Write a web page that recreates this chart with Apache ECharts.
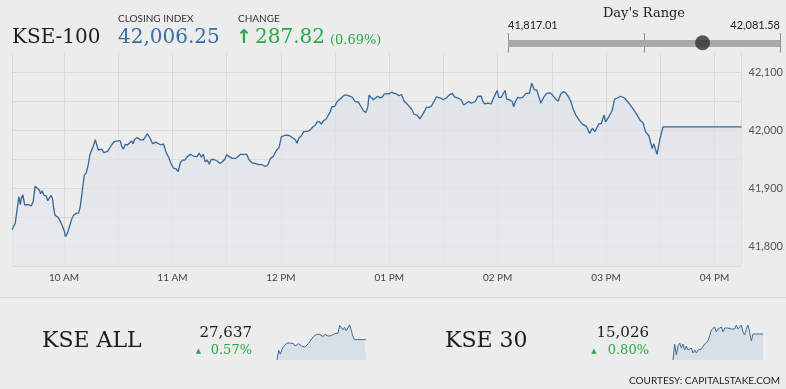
<!DOCTYPE html>
<html><head><meta charset="utf-8">
<script src="https://cdn.jsdelivr.net/npm/echarts@6/dist/echarts.min.js"></script>
<style>html,body{margin:0;padding:0;background:#ececec;overflow:hidden}#c{width:786px;height:389px}</style>
</head><body><div id="c"></div>
<script>
// ---- KSE-100 intraday (minutes after midnight, index value) ----
const times = [
571.2,573.0,574.1,575.0,575.8,576.3,577.2,578.2,579.1,580.4,581.1,581.8,582.9,584.0,585.1,586.4,587.0,587.9,588.8,590.1,
591.0,592.0,592.8,593.6,594.3,595.0,596.5,598.0,599.3,600.2,600.8,602.0,603.0,604.2,605.3,606.6,608.1,609.0,610.1,611.2,
612.3,613.4,614.3,615.3,616.4,617.3,618.2,619.0,619.8,620.9,621.9,622.8,624.1,625.2,626.3,627.8,629.6,631.1,632.0,632.9,
633.8,635.1,636.2,637.3,638.2,639.1,640.6,642.1,643.9,646.1,647.6,649.0,650.7,651.8,653.7,655.1,656.4,657.7,659.2,660.6,
661.9,663.2,664.3,665.6,666.9,668.0,669.8,671.6,673.5,674.8,676.0,677.1,678.1,679.3,680.3,681.5,683.0,684.9,686.3,687.6,
688.9,690.0,691.5,693.1,695.0,696.3,697.7,699.6,701.1,702.3,704.1,706.0,707.8,709.6,711.5,712.8,714.3,715.7,716.6,717.6,
718.9,720.3,721.6,723.1,724.9,726.7,728.1,728.9,730.0,731.4,732.6,733.6,735.0,736.3,737.6,739.1,740.0,741.3,742.4,743.6,
744.9,746.0,747.3,748.2,749.7,751.0,752.3,753.7,755.2,756.5,757.4,758.4,759.6,761.1,762.9,764.4,765.7,767.0,768.1,768.8,
769.9,771.2,772.1,773.6,774.9,776.2,777.3,778.5,779.8,781.3,782.8,784.0,785.4,786.8,788.3,789.5,790.9,792.3,793.8,795.6,
796.9,798.2,799.3,800.6,801.9,803.3,804.8,806.1,807.0,808.5,809.8,811.6,813.1,814.9,816.2,818.0,819.8,821.2,822.6,824.1,
825.4,826.3,827.6,829.1,830.9,831.8,832.7,834.6,836.4,837.3,838.8,839.7,840.6,841.9,842.8,844.1,845.0,846.5,848.0,848.9,
849.8,851.1,852.4,853.8,855.7,857.5,858.9,860.3,861.6,862.7,863.9,865.4,867.1,868.9,870.4,872.2,873.5,874.9,876.4,877.7,
879.2,880.5,881.8,883.2,885.1,886.9,887.8,889.1,890.0,890.9,892.4,893.8,896.1,897.4,898.9,899.7,901.6,903.4,904.7,906.2,
908.0,908.9,910.2,911.3,912.6,913.5,915.4,917.2,918.7,920.5,921.8,923.7,925.5,926.4,928.2,929.7,931.5,975.0
];
const values = [
41829,41840,41843,41886,41872,41883,41889,41872,41869,41872,41875,41870,41877,41904,41904,41897,41891,41896,41889,41887,
41879,41877,41888,41883,41866,41854,41851,41843,41834,41826,41817,41824,41827,41847,41854,41857,41858,41869,41869,41923,
41927,41941,41958,41966,41975,41984,41982,41966,41965,41968,41962,41965,41964,41965,41975,41981,41982,41982,41972,41968,
41976,41975,41977,41982,41977,41985,41988,41984,41984,41994,41987,41977,41980,41981,41975,41977,41963,41955,41943,41935,
41934,41929,41944,41949,41949,41954,41959,41956,41955,41961,41954,41959,41946,41949,41942,41950,41950,41947,41943,41946,
41950,41958,41955,41952,41952,41955,41959,41959,41959,41950,41944,41943,41941,41941,41938,41941,41952,41955,41952,41966,
41970,41989,41991,41992,41991,41987,41984,41978,41987,41991,41998,41996,41999,42001,42006,42009,42015,42015,42011,42017,
42019,42020,42032,42041,42041,42049,42053,42057,42061,42061,42064,42059,42057,42050,42049,42041,42034,42031,42040,42061,
42063,42053,42056,42059,42056,42058,42063,42063,42063,42066,42064,42063,42060,42062,42050,42047,42042,42037,42028,42026,
42020,42026,42032,42040,42040,42042,42050,42058,42061,42056,42053,42056,42061,42064,42058,42056,42053,42044,42047,42050,
42047,42045,42050,42059,42059,42050,42046,42047,42046,42053,42063,42069,42057,42057,42056,42069,42054,42053,42050,42041,
42050,42057,42056,42057,42064,42064,42081.58,42070,42070,42059,42047,42057,42064,42065,42061,42054,42051,42063,42067,42065,
42058,42050,42037,42027,42018,42011,42012,42007,42004,41995,42004,41998,42012,42012,42027,42015,42024,42035,42054,42056,
42059,42061,42056,42059,42047,42050,42035,42027,42018,42013,41998,41991,41969,41977,41959,41984,42006.25,42006.25
];
const hourTicks = {600:'10 AM',660:'11 AM',720:'12 PM',780:'01 PM',840:'02 PM',900:'03 PM',960:'04 PM'};

const indexName = 'KSE-100';
const closingIndex = 42006.25;
const changePts = 287.82;
const changePct = 0.69;
const dayLow = 41817.01;
const dayHigh = 42081.58;

// ---- Sub-indices (sparklines, evenly spaced through the session) ----
const kseAllName = 'KSE ALL';
const kseAllValue = 27637;
const kseAllPct = 0.57;
const kseAllSpark = [27602,27619,27612,27620,27625,27628,27631,27632,27631,27633,27630,27626,27628,27630,27628,27626,27625,27624,27626,27630,
27634,27637,27642,27644,27646,27643,27646,27644,27642,27646,27644,27643,27646,27644,27646,27647,27649,27648,27661,27658,
27654,27658,27652,27649,27662,27654,27643,27637,27637,27637,27637,27637,27637,27637,27637];
const kse30Name = 'KSE 30';
const kse30Value = 15026;
const kse30Pct = 0.80;
const kse30Spark = [15000,15016,15005,15014,15017,15012,15016,15010,15014,15010,15011,15012,15007,15010,15007,15010,15008,15011,15010,15016,
15017,15019,15024,15030,15032,15033,15028,15031,15032,15033,15028,15032,15031,15032,15033,15031,15032,15031,15035,15031,
15033,15035,15028,15025,15031,15035,15028,15019,15026,15026,15026,15026,15026,15026,15026];

const serif = '"DejaVu Serif", serif';
const sans = 'Lato, "Open Sans", sans-serif';
const green = '#2aa84a';
const lineBlue = '#36679a';
const fmt = (v, d) => v.toLocaleString('en-US', {minimumFractionDigits: d, maximumFractionDigits: d});

const chart = echarts.init(document.getElementById('c'), null, {renderer: 'canvas'});

function txt(text, x, y, font, fill, align) {
  return {type: 'text', silent: true, z: 10, style: {text, x, y, font, fill, textAlign: align || 'left', textVerticalAlign: 'middle', verticalAlign: 'middle'}};
}

const sparkIdx = kseAllSpark.map((_, i) => i);

chart.setOption({
  backgroundColor: '#ececec',
  animation: false,
  grid: [
    {left: 12, right: 41, top: 53, bottom: 123},
    {left: 508, width: 272, top: 33, height: 19.5},
    {left: 277, width: 89, top: 325, height: 35},
    {left: 673, width: 90, top: 325, height: 35}
  ],
  xAxis: [
    {gridIndex: 0, type: 'value', min: times[0], max: times[times.length - 1], minInterval: 30, maxInterval: 30,
     axisLine: {show: false}, axisTick: {show: false},
     splitLine: {show: true, lineStyle: {color: '#dadada', width: 1}},
     axisLabel: {color: '#444', fontFamily: sans, fontSize: 10, margin: 7, formatter: v => hourTicks[Math.round(v)] && Math.abs(v - Math.round(v)) < 1e-6 ? hourTicks[Math.round(v)] : ''}},
    {gridIndex: 1, type: 'value', min: dayLow, max: dayHigh, interval: (dayHigh - dayLow) / 2,
     axisLine: {show: true, onZero: true, lineStyle: {color: '#a9a9a9', width: 7, cap: 'butt'}},
     axisTick: {show: false}, axisLabel: {show: false},
     splitLine: {show: true, lineStyle: {color: '#8a8a8a', width: 1}}},
    {gridIndex: 2, type: 'category', data: sparkIdx, boundaryGap: false, show: false},
    {gridIndex: 3, type: 'category', data: sparkIdx, boundaryGap: false, show: false}
  ],
  yAxis: [
    {gridIndex: 0, type: 'value', position: 'right', min: 41766.4, max: 42133.6, minInterval: 50, maxInterval: 50,
     axisLine: {show: false}, axisTick: {show: false},
     splitLine: {show: true, showMaxLine: false, lineStyle: {color: '#dadada', width: 1}},
     axisLabel: {color: '#555', fontFamily: sans, fontSize: 11, margin: 7,
       formatter: v => (Math.abs(v % 100) < 1e-6) ? fmt(v, 0) : ''}},
    {gridIndex: 1, type: 'value', min: -1, max: 1, show: false},
    {gridIndex: 2, type: 'value', min: 'dataMin', max: 'dataMax', show: false},
    {gridIndex: 3, type: 'value', min: 'dataMin', max: 'dataMax', show: false}
  ],
  series: [
    {type: 'line', xAxisIndex: 0, yAxisIndex: 0, data: times.map((t, i) => [t, values[i]]),
     symbol: 'none', lineStyle: {color: lineBlue, width: 1.3},
     areaStyle: {origin: 'start', color: new echarts.graphic.LinearGradient(0, 0, 0, 1, [{offset: 0, color: '#dbe2ea'}, {offset: 1, color: '#e7e8ea'}])}},
    {type: 'scatter', xAxisIndex: 1, yAxisIndex: 1, data: [[closingIndex, 0]], symbolSize: 15, itemStyle: {color: '#2f2f2f'}, z: 5},
    {type: 'line', xAxisIndex: 2, yAxisIndex: 2, data: kseAllSpark, symbol: 'none',
     lineStyle: {color: '#3e6e9c', width: 1}, areaStyle: {origin: 'start', color: '#d8dfe7', opacity: 1}},
    {type: 'line', xAxisIndex: 3, yAxisIndex: 3, data: kse30Spark, symbol: 'none',
     lineStyle: {color: '#3e6e9c', width: 1}, areaStyle: {origin: 'start', color: '#d8dfe7', opacity: 1}}
  ],
  graphic: [
    {type: 'line', silent: true, shape: {x1: 0, y1: 297.5, x2: 786, y2: 297.5}, style: {stroke: '#d9d9d9', lineWidth: 1}},
    txt(indexName, 12, 37.5, '20px ' + serif, '#1c1c1c'),
    txt('CLOSING INDEX', 118, 18.5, '10px ' + sans, '#333'),
    txt(fmt(closingIndex, 2), 118, 37.5, '20px ' + serif, '#3d6c9e'),
    txt('CHANGE', 238, 18.5, '10px ' + sans, '#333'),
    txt('\u2191', 236, 38.5, 'bold 19px "DejaVu Sans", sans-serif', green),
    txt(fmt(changePts, 2), 255, 37.5, '20px ' + serif, green),
    txt('(' + fmt(changePct, 2) + '%)', 330, 41, '13px ' + serif, green),
    txt("Day's Range", 644, 13.5, '13px ' + serif, '#222', 'center'),
    txt(fmt(dayLow, 2), 508, 25, '11px ' + sans, '#222'),
    txt(fmt(dayHigh, 2), 780, 25, '11px ' + sans, '#222', 'right'),
    txt(kseAllName, 42, 341, '22px ' + serif, '#1c1c1c'),
    txt(fmt(kseAllValue, 0), 252, 333, '15px ' + serif, '#1c1c1c', 'right'),
    txt('\u25B2', 198.5, 351, '7px "DejaVu Sans", sans-serif', green, 'center'),
    txt(fmt(kseAllPct, 2) + '%', 252, 350.5, '13px ' + serif, green, 'right'),
    txt(kse30Name, 445, 341, '22px ' + serif, '#1c1c1c'),
    txt(fmt(kse30Value, 0), 649, 333, '15px ' + serif, '#1c1c1c', 'right'),
    txt('\u25B2', 594, 351, '7px "DejaVu Sans", sans-serif', green, 'center'),
    txt(fmt(kse30Pct, 2) + '%', 649, 350.5, '13px ' + serif, green, 'right'),
    txt('COURTESY: CAPITALSTAKE.COM', 780, 381, '10px ' + sans, '#222', 'right')
  ]
});
</script>
</body></html>
